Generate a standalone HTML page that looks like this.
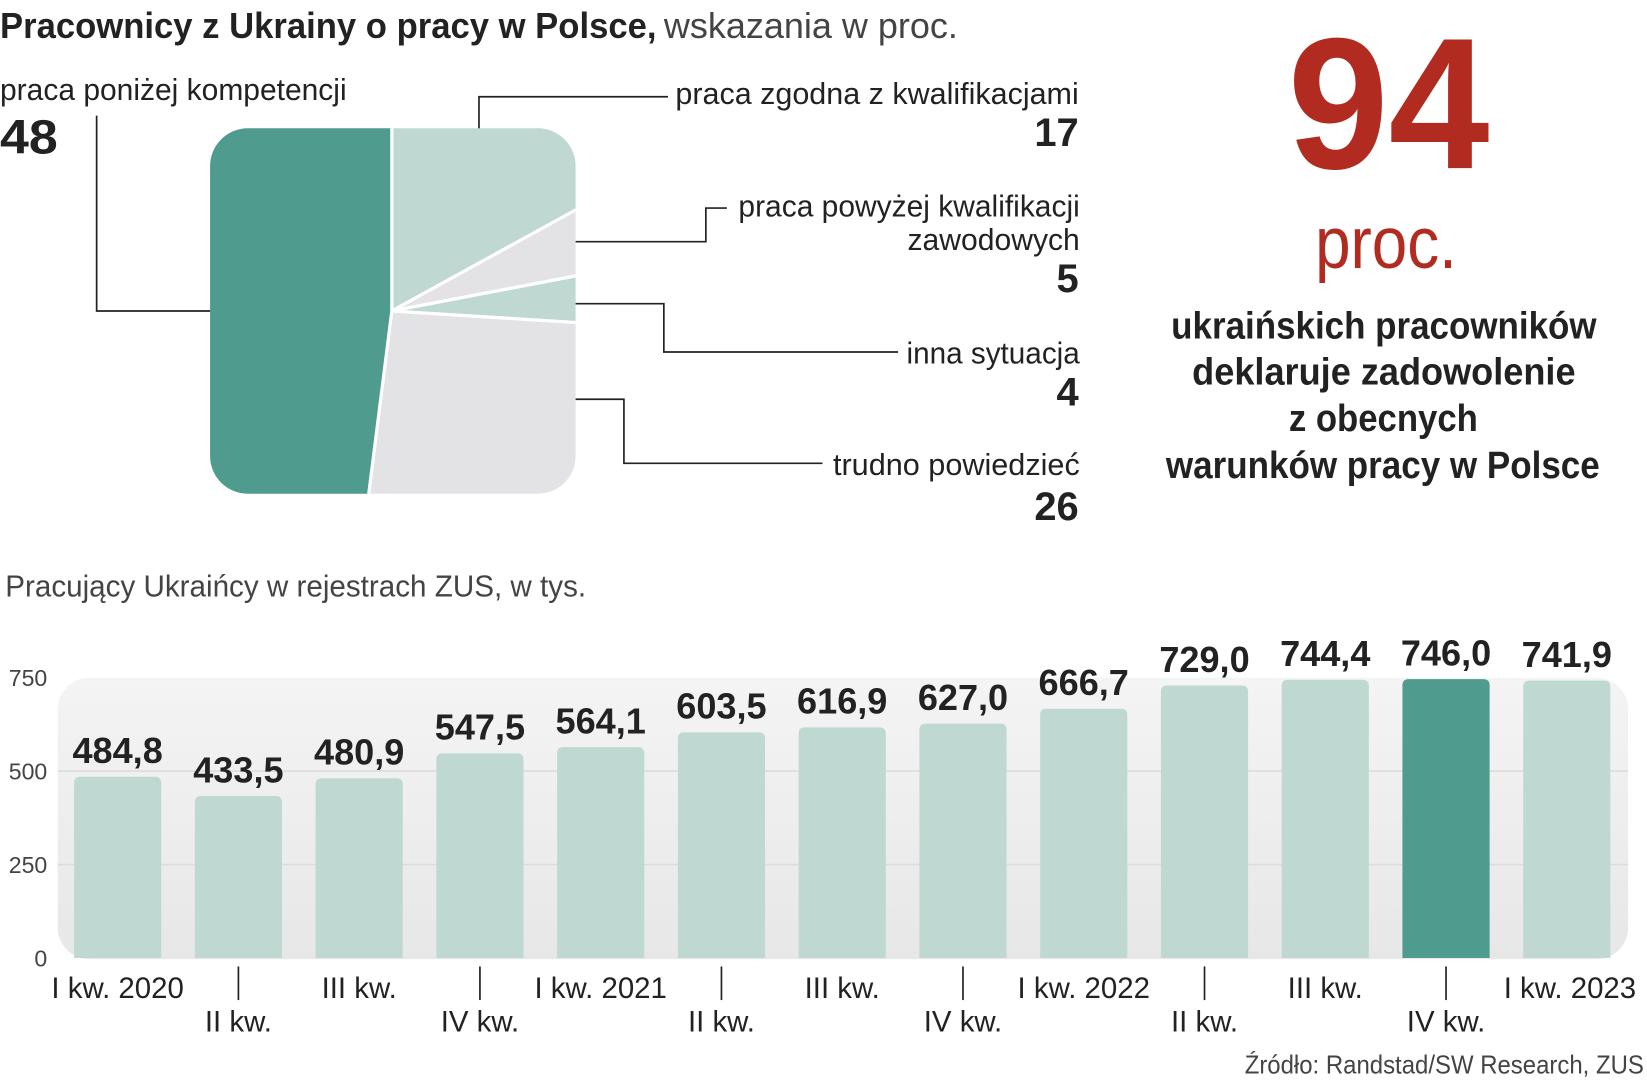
<!DOCTYPE html>
<html><head><meta charset="utf-8"><style>
html,body{margin:0;padding:0;background:#fff;}
svg{display:block;}
text{font-family:"Liberation Sans",sans-serif;fill:#222;}
</style></head><body>
<svg width="1647" height="1080" viewBox="0 0 1568 1028" xmlns="http://www.w3.org/2000/svg">
<defs>
<clipPath id="sq"><rect x="200" y="122" width="348" height="348" rx="36"/></clipPath>
<linearGradient id="bg" x1="0" y1="0" x2="0" y2="1"><stop offset="0" stop-color="#f4f4f4"/><stop offset="1" stop-color="#e7e7e7"/></linearGradient>
</defs>
<text x="0" y="36" font-size="34"><tspan font-weight="bold" textLength="625" lengthAdjust="spacingAndGlyphs">Pracownicy z Ukrainy o pracy w Polsce,</tspan><tspan dx="7" fill="#444" textLength="280" lengthAdjust="spacingAndGlyphs">wskazania w proc.</tspan></text>

<g id="pie" clip-path="url(#sq)"></g>
<g id="pielines" fill="none" stroke="#222" stroke-width="1.6">
<polyline points="92,110 92,296 200,296"/>
<polyline points="456,122 456,92 636,92"/>
<polyline points="548,230 672,230 672,198 692,198"/>
<polyline points="548,289 632,289 632,335 855,335"/>
<polyline points="548,380 594,380 594,441 783,441"/>
</g>
<g font-size="29">
<text x="0" y="95" textLength="330" lengthAdjust="spacingAndGlyphs">praca poniżej kompetencji</text>
<text x="0" y="146" font-size="46" font-weight="bold" textLength="55" lengthAdjust="spacingAndGlyphs">48</text>
<text x="643" y="99" textLength="384" lengthAdjust="spacingAndGlyphs">praca zgodna z  kwalifikacjami</text>
<text x="1027" y="139" text-anchor="end" font-size="38" font-weight="bold">17</text>
<text x="703" y="206" textLength="325" lengthAdjust="spacingAndGlyphs">praca powyżej kwalifikacji</text>
<text x="864" y="238" textLength="164" lengthAdjust="spacingAndGlyphs">zawodowych</text>
<text x="1027" y="278" text-anchor="end" font-size="38" font-weight="bold">5</text>
<text x="863" y="346" textLength="165" lengthAdjust="spacingAndGlyphs">inna sytuacja</text>
<text x="1027" y="386" text-anchor="end" font-size="38" font-weight="bold">4</text>
<text x="793" y="452" textLength="235" lengthAdjust="spacingAndGlyphs">trudno powiedzieć</text>
<text x="1027" y="495" text-anchor="end" font-size="38" font-weight="bold">26</text>
</g>

<text x="1226" y="160" font-size="178" font-weight="bold" fill="#b22b20" style="fill:#b22b20" textLength="192" lengthAdjust="spacingAndGlyphs">94</text>
<text x="1252" y="255" font-size="70" style="fill:#b22b20" textLength="135" lengthAdjust="spacingAndGlyphs">proc.</text>
<g font-size="36" font-weight="bold" fill="#222">
<text x="1115" y="322" textLength="405" lengthAdjust="spacingAndGlyphs">ukraińskich pracowników</text>
<text x="1135" y="366" textLength="365" lengthAdjust="spacingAndGlyphs">deklaruje zadowolenie</text>
<text x="1227" y="410" textLength="180" lengthAdjust="spacingAndGlyphs">z obecnych</text>
<text x="1110" y="455" textLength="413" lengthAdjust="spacingAndGlyphs">warunków pracy w Polsce</text>
</g>

<text x="5" y="568" font-size="29" style="fill:#444" textLength="553" lengthAdjust="spacingAndGlyphs">Pracujący Ukraińcy w rejestrach ZUS, w tys.</text>
<rect x="55" y="645" width="1495" height="268" rx="30" fill="url(#bg)"/>
<g id="bars"></g>
<text x="1565" y="1022" text-anchor="end" font-size="25" style="fill:#444" textLength="380" lengthAdjust="spacingAndGlyphs">Źródło: Randstad/SW Research, ZUS</text>
</svg>
<script>
const NS='http://www.w3.org/2000/svg';
const pieLabels=['praca zgodna z kwalifikacjami','praca powyżej kwalifikacji zawodowych','inna sytuacja','trudno powiedzieć','praca poniżej kompetencji'];
const pieValues=[17,5,4,26,48];
const pieColors=['#bfd9d2','#e3e3e5','#bfd9d2','#e3e3e5','#4f9b8e'];
const categories=['I kw. 2020','II kw.','III kw.','IV kw.','I  kw. 2021','II kw.','III kw.','IV kw.','I kw. 2022','II kw.','III kw.','IV kw.','I kw. 2023'];
const values=[484.8,433.5,480.9,547.5,564.1,603.5,616.9,627.0,666.7,729.0,744.4,746.0,741.9];
const valueLabels=['484,8','433,5','480,9','547,5','564,1','603,5','616,9','627,0','666,7','729,0','744,4','746,0','741,9'];
const yTicks=[0,250,500,750];
const highlightIndex=11;

function mk(t,a,p){const e=document.createElementNS(NS,t);for(const k in a)e.setAttribute(k,a[k]);p.appendChild(e);return e;}
// pie
const pie=document.getElementById('pie');
const cx=373,cy=296,R=600;
let tot=pieValues.reduce((a,b)=>a+b,0),acc=0;
pieValues.forEach((v,i)=>{
  const a0=acc/tot*2*Math.PI;acc+=v;const a1=acc/tot*2*Math.PI;
  const p=(a)=>[cx+R*Math.sin(a),cy-R*Math.cos(a)];
  const [x0,y0]=p(a0),[x1,y1]=p(a1);
  const large=(a1-a0)>Math.PI?1:0;
  const el=mk('path',{d:`M${cx},${cy}L${x0},${y0}A${R},${R} 0 ${large} 1 ${x1},${y1}Z`,fill:pieColors[i],stroke:'#fff','stroke-width':3,'stroke-linejoin':'round'},pie);
  
  
});
// bars
const g=document.getElementById('bars');
const y0=912,yTop=645,vMax=750;
const ys=v=>y0-(v/vMax)*(y0-yTop);
const x0c=112,step=114.97,bw=83;
const xs=i=>x0c+i*step;
yTicks.forEach(t=>{
  if(t>0&&t<750){const l=mk('line',{x1:55,x2:1550,y1:ys(t),y2:ys(t),stroke:'#dcdcdc','stroke-width':1.5},g);
  
  }
  const tx=mk('text',{x:45,y:ys(t)+8,'text-anchor':'end','font-size':22,style:'fill:#444'},g);tx.textContent=t;
  
  
});
values.forEach((v,i)=>{
  const x=xs(i)-bw/2,y=ys(v),h=y0-y;
  const b=mk('path',{d:`M${x},${y0}V${y+6}Q${x},${y} ${x+6},${y}H${x+bw-6}Q${x+bw},${y} ${x+bw},${y+6}V${y0}Z`,fill:i===highlightIndex?'#4f9b8e':'#bfd9d2'},g);
  
  
  const t=mk('text',{x:xs(i),y:y-13,'text-anchor':'middle','font-size':34,'font-weight':'bold',textLength:86,lengthAdjust:'spacingAndGlyphs'},g);
  t.textContent=valueLabels[i];
  
  
  const odd=i%2===1;
  const c=mk('text',{x:xs(i)+(i===12?3:0),y:odd?982:950,'text-anchor':'middle','font-size':28,style:'fill:#222'},g);
  c.textContent=categories[i];
  
  
  if(odd){const l=mk('line',{x1:xs(i),x2:xs(i),y1:920,y2:952,stroke:'#222','stroke-width':1.6},g);
    
    }
});
</script>
</body></html>
